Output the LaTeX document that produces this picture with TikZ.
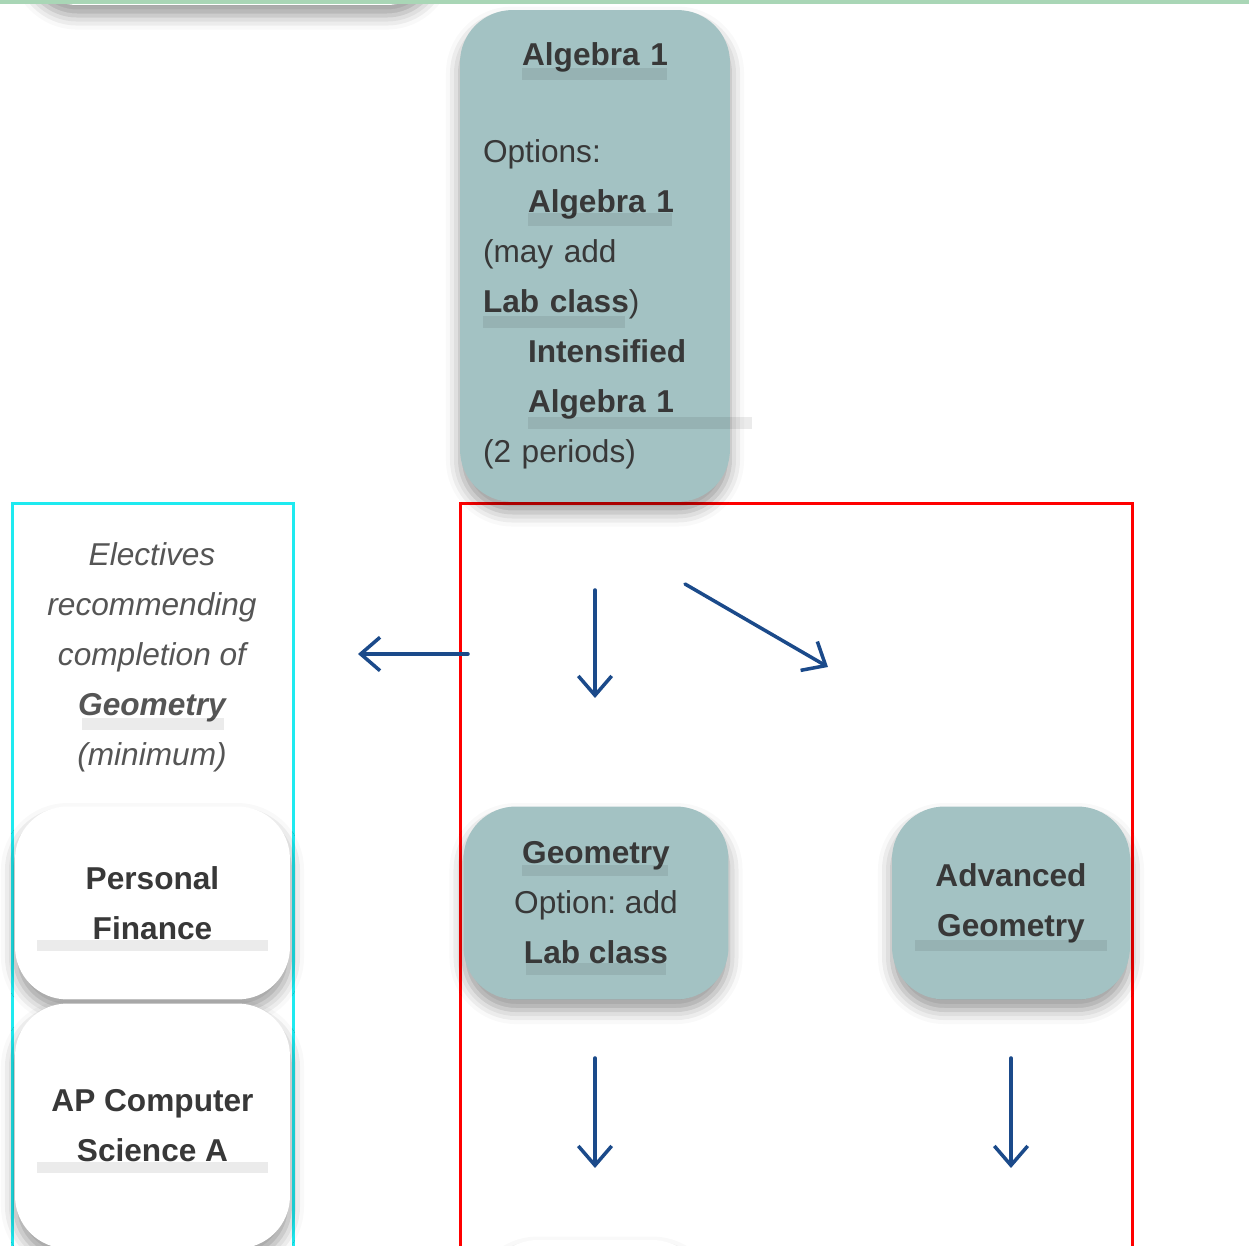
\documentclass[tikz,border=0pt]{standalone}
\usepackage{fontspec}
\setmainfont{Liberation Sans}
\usetikzlibrary{arrows.meta,shadows,shadows.blur,positioning}

\definecolor{boxteal}{HTML}{A3C2C3}
\definecolor{txtgray}{HTML}{383838}
\definecolor{notegray}{HTML}{555555}
\definecolor{arrowblue}{HTML}{1B4A8A}
\definecolor{topgreen}{HTML}{A9D6B6}
\definecolor{framered}{HTML}{FF0000}
\definecolor{framecyan}{HTML}{1EEAF0}

\newcommand{\coursefont}{\fontsize{18}{28.5}\selectfont\frenchspacing}

\tikzset{
  course/.style={rounded corners=1.05cm, fill=boxteal, text=txtgray, font=\coursefont,
    align=center, inner sep=0pt,
    blur shadow={shadow xshift=0pt, shadow yshift=-6pt, shadow blur radius=8pt, shadow opacity=40}},
  elective/.style={course, fill=white},
  frame/.style={draw, line width=0.06cm, inner sep=0pt},
  flow/.style={->, draw=arrowblue, line width=2pt, line cap=round},
  hl/.style={fill=black, fill opacity=0.08},
}

\begin{document}
\begin{tikzpicture}[x=0.02cm,y=-0.02cm,>={Straight Barb[length=11pt,width=19pt]}]
\useasboundingbox (0,0) rectangle (1249,1246);
\clip (0,0) rectangle (1249,1246);
%%
\node (prevbox) at (232,-60) [elective, minimum width=8.3cm, minimum height=2.6cm] {};
\fill[topgreen] (0,0) rectangle (1249,4);
\node (nextbox) at (595,1300) [elective, minimum width=4.4cm, minimum height=2.4cm] {};
%%
\node (electframe) at (153,901.5) [frame, draw=framecyan, minimum width=5.64cm, minimum height=15.94cm] {};
\node (geoframe) at (796.5,901.5) [frame, draw=framered, minimum width=13.46cm, minimum height=15.94cm] {};
%%
\node (alg) at (595,256) [course, minimum width=5.4cm, minimum height=9.84cm, text width=4.48cm, align=left]
  {\null\hfill\textbf{Algebra 1}\hfill\null\\[0.94cm]
   Options:\\
   \hspace*{0.9cm}\textbf{Algebra 1}\\
   (may add\\
   \textbf{Lab class})\\
   \hspace*{0.9cm}\textbf{Intensified}\\
   \hspace*{0.9cm}\textbf{Algebra 1}\\
   (2 periods)};
\node (geo) at (596,903) [course, minimum width=5.3cm, minimum height=3.86cm]
  {\textbf{Geometry}\\ Option: add\\ \textbf{Lab class}};
\node (advgeo) at (1011,903) [course, minimum width=4.76cm, minimum height=3.86cm]
  {\textbf{Advanced}\\ \textbf{Geometry}};
\node (electives) at (152,657) [text=notegray, font=\coursefont\itshape, align=center]
  {Electives\\ recommending\\ completion of\\ \textbf{Geometry}\\ (minimum)};
\node (finance) at (152.5,903) [elective, minimum width=5.5cm, minimum height=3.86cm]
  {\textbf{Personal}\\ \textbf{Finance}};
\node (apcs) at (152.5,1126) [elective, minimum width=5.5cm, minimum height=4.9cm]
  {\textbf{AP Computer}\\ \textbf{Science A}};
%%
\fill[hl] (522,68) rectangle (667,80);
\fill[hl] (528,213) rectangle (672,226);
\fill[hl] (483,316) rectangle (625,328);
\fill[hl] (528,417) rectangle (752,429);
\fill[hl] (522,865) rectangle (668,876);
\fill[hl] (526,963) rectangle (666,975);
\fill[hl] (915,940) rectangle (1107,951);
\fill[hl] (82,718) rectangle (224,730);
\fill[hl] (37,940) rectangle (268,951);
\fill[hl] (37,1162) rectangle (268,1173);
%%
\coordinate (toelect0) at (468,654);
\coordinate (toelect1) at (358,654);
\coordinate (togeo0) at (595,590);
\coordinate (togeo1) at (595,698);
\coordinate (toadv0) at (685,584);
\coordinate (toadv1) at (828,667);
\coordinate (fromgeo0) at (595,1058);
\coordinate (fromgeo1) at (595,1168);
\coordinate (fromadv0) at (1011,1058);
\coordinate (fromadv1) at (1011,1168);
\draw [flow] (toelect0) -- (toelect1);
\draw [flow] (togeo0) -- (togeo1);
\draw [flow] (toadv0) -- (toadv1);
\draw [flow] (fromgeo0) -- (fromgeo1);
\draw [flow] (fromadv0) -- (fromadv1);
%
\end{tikzpicture}
\end{document}
